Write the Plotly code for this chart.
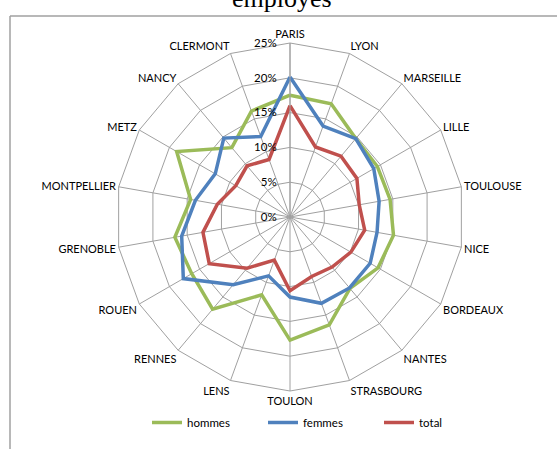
import plotly.graph_objects as go

# -----------------------------
# Data (share of employees, %)
# -----------------------------
villes = [
    "PARIS", "LYON", "MARSEILLE", "LILLE", "TOULOUSE", "NICE", "BORDEAUX",
    "NANTES", "STRASBOURG", "TOULON", "LENS", "RENNES", "ROUEN", "GRENOBLE",
    "MONTPELLIER", "METZ", "NANCY", "CLERMONT",
]
hommes = [17.5, 17.3, 14.7, 14.5, 14.6, 15.1, 14.6, 13.4, 16.5, 17.7,
          11.9, 17.3, 16.3, 16.8, 14.5, 18.8, 13.0, 16.2]
femmes = [20.1, 13.9, 14.7, 13.9, 13.0, 12.7, 13.3, 13.3, 13.2, 11.5,
          9.0, 12.7, 17.7, 15.8, 13.8, 12.4, 14.8, 12.3]
total = [16.0, 10.7, 11.4, 11.1, 10.1, 10.9, 10.1, 9.4, 9.1, 10.6,
         6.6, 9.6, 13.4, 12.7, 10.6, 9.0, 9.6, 8.8]
radial_ticks = [0, 5, 10, 15, 20, 25]
radial_labels = ["0%", "5%", "10%", "15%", "20%", "25%"]

series = [
    ("hommes", hommes, "#9BBB59"),
    ("femmes", femmes, "#4F81BD"),
    ("total", total, "#C0504D"),
]

W, H = 557, 449
GRID = "#A0A0A0"
FONT = "Lato"
PAD = "\u00a0" * 3  # push radial labels a bit away from the axis

fig = go.Figure()

for name, vals, color in series:
    fig.add_trace(
        go.Scatterpolar(
            r=vals + vals[:1],
            theta=villes + villes[:1],
            name=name,
            mode="lines",
            line=dict(color=color, width=3.5),
        )
    )

# center (290, 217), radius 174 px
cx, cy, rad = 290, 217, 174

fig.update_layout(
    width=W,
    height=H,
    margin=dict(l=0, r=0, t=0, b=0, autoexpand=False),
    paper_bgcolor="white",
    plot_bgcolor="white",
    font=dict(family=FONT, size=11, color="#000000"),
    polar=dict(
        domain=dict(
            x=[(cx - rad) / W, (cx + rad) / W],
            y=[1 - (cy + rad) / H, 1 - (cy - rad) / H],
        ),
        gridshape="linear",
        bgcolor="white",
        radialaxis=dict(
            range=[0, 25],
            tickvals=radial_ticks,
            ticktext=[t + PAD for t in radial_labels],
            angle=90,
            tickangle=90,
            side="counterclockwise",
            showline=True,
            linecolor=GRID,
            gridcolor=GRID,
            ticks="",
            tickfont=dict(size=11.5),
        ),
        angularaxis=dict(
            direction="clockwise",
            rotation=90,
            showline=True,
            linecolor=GRID,
            gridcolor=GRID,
            ticks="",
            tickfont=dict(size=11),
        ),
    ),
    legend=dict(
        orientation="h",
        x=147 / W,
        xanchor="left",
        y=1 - 408 / H,
        yanchor="top",
        entrywidth=71,
        entrywidthmode="pixels",
        font=dict(size=11.5),
        bgcolor="rgba(0,0,0,0)",
    ),
    annotations=[
        dict(
            text="employés",
            x=282 / W,
            y=1 + 1.5 / H,
            xref="paper",
            yref="paper",
            xanchor="center",
            yanchor="middle",
            showarrow=False,
            font=dict(family="Liberation Serif", size=26, color="#000000"),
        )
    ],
    shapes=[
        dict(type="line", xref="paper", yref="paper",
             x0=10 / W, x1=1.0, y0=1 - 16 / H, y1=1 - 16 / H,
             line=dict(color=GRID, width=1.5)),
        dict(type="line", xref="paper", yref="paper",
             x0=10 / W, x1=10 / W, y0=0, y1=1 - 16 / H,
             line=dict(color=GRID, width=1.5)),
    ],
)

fig.write_html(
    "out.html",
    config={"displayModeBar": False},
    post_script="document.body.style.margin='0';",
)
